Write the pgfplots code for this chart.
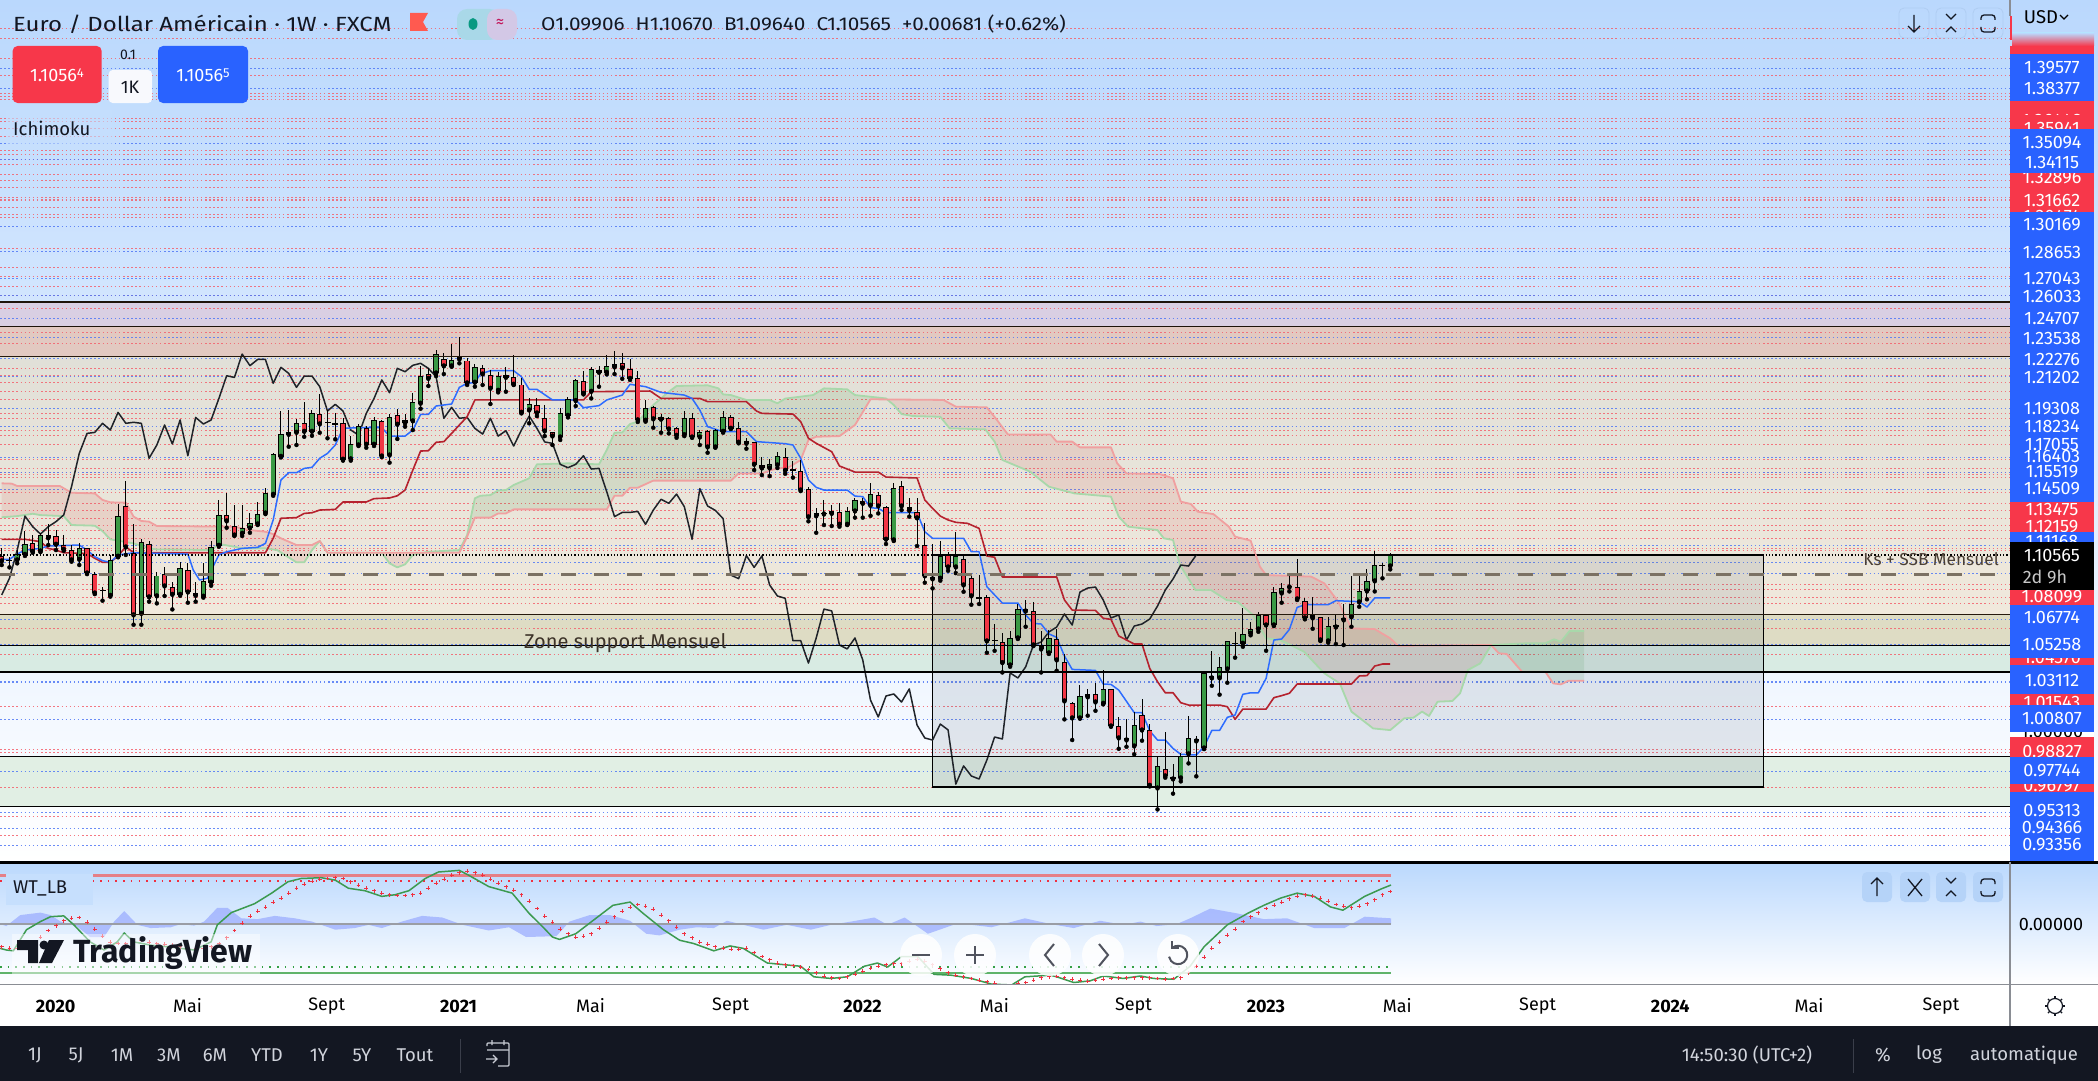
\documentclass[border=0pt]{standalone}
\usepackage{fontspec}
\setmainfont{Fira Sans}
\usepackage{pgfplots}
\usepackage{pgfplotstable}
\pgfplotsset{compat=1.18}
\usepgfplotslibrary{fillbetween}
\pgfdeclarelayer{bg}
\definecolor{tvblue}{HTML}{2962FF}
\definecolor{tvred}{HTML}{F7374A}
\definecolor{cgreen}{HTML}{3A9A45}
\definecolor{cred}{HTML}{F23645}
\definecolor{topbg}{HTML}{BAD8FD}
\definecolor{dark}{HTML}{131722}
\definecolor{ssagreen}{HTML}{A8D8AA}
\definecolor{ssbred}{HTML}{F0A0A0}
\definecolor{tenkan}{HTML}{2D6CFF}
\definecolor{kijun}{HTML}{B5222E}
\definecolor{chikou}{HTML}{1F2329}
\definecolor{lvr}{HTML}{F4606C}
\definecolor{lvb}{HTML}{5078F5}
\definecolor{btn}{HTML}{B5D3F8}
\definecolor{glyph}{HTML}{131722}
\newcommand{\dc}[1]{\definecolor{h#1}{HTML}{#1}}
\dc{D9CFE3}\dc{E2C9C1}\dc{DEDCC4}\dc{D8EBE3}\dc{E1EFE4}\dc{5D6B7A}\dc{8C9EFF}\dc{E57F87}\dc{9A9DA5}\dc{5FB36A}\dc{F03040}\dc{35A045}\dc{3C9A50}\dc{7B7163}\dc{3C3228}\dc{4A3F35}\dc{8A8D94}\dc{C8C8C8}\dc{FF5A50}\dc{A9D8E8}\dc{D3C8E6}\dc{089981}\dc{C2185B}\dc{F8F9FD}\dc{C6DFFD}\dc{AFCDF2}\dc{50535E}\dc{D1D4DC}\dc{3A3E4A}\dc{C8CBD3}
\newcommand{\lbl}{\fontsize{18}{20}\selectfont}
\newcommand{\ui}{\fontsize{18.5}{21}\selectfont}
\pgfplotsset{ebar/.style={only marks,mark=none,forget plot,error bars/.cd,y dir=plus,y explicit,error mark=none,error bar style={#1}}}
% week index, high, low, body bottom, body top
\pgfplotstableread{
i h l b t
3 1.1090 1.1011 1.1029 1.1064
4 1.1203 1.1055 1.1062 1.1124
6 1.1189 1.1078 1.1082 1.1177
11 1.1130 1.1001 1.1033 1.1100
15 1.1061 1.0813 1.0818 1.1029
16 1.1364 1.1047 1.1051 1.1292
19 1.1154 1.0646 1.0711 1.1136
21 1.0961 1.0773 1.0815 1.0938
24 1.1021 1.0818 1.0824 1.0981
27 1.1011 1.0807 1.0813 1.0904
28 1.1146 1.0878 1.0896 1.1106
29 1.1388 1.1110 1.1116 1.1296
32 1.1358 1.1174 1.1187 1.1219
33 1.1312 1.1193 1.1219 1.1249
34 1.1374 1.1239 1.1243 1.1302
35 1.1461 1.1304 1.1308 1.1427
36 1.1665 1.1413 1.1419 1.1659
37 1.1917 1.1641 1.1645 1.1778
38 1.1923 1.1705 1.1776 1.1790
39 1.1868 1.1715 1.1788 1.1844
41 1.1923 1.1770 1.1794 1.1907
46 1.1768 1.1622 1.1630 1.1719
47 1.1838 1.1709 1.1713 1.1830
49 1.1879 1.1709 1.1717 1.1862
51 1.1899 1.1610 1.1653 1.1879
53 1.1899 1.1824 1.1844 1.1862
54 1.2022 1.1804 1.1856 1.1969
55 1.2185 1.1931 1.1961 1.2125
57 1.2280 1.2125 1.2141 1.2254
59 1.2316 1.2181 1.2183 1.2219
62 1.2195 1.2062 1.2086 1.2177
65 1.2151 1.2028 1.2038 1.2123
69 1.1992 1.1844 1.1921 1.1957
73 1.1933 1.1745 1.1760 1.1903
74 1.2002 1.1879 1.1889 1.1987
75 1.2106 1.1947 1.1977 1.2100
77 1.2181 1.1992 1.2032 1.2165
79 1.2250 1.2135 1.2145 1.2183
80 1.2274 1.2137 1.2177 1.2195
84 1.1983 1.1854 1.1860 1.1937
86 1.1897 1.1788 1.1866 1.1879
89 1.1917 1.1768 1.1774 1.1874
91 1.1804 1.1715 1.1760 1.1794
93 1.1808 1.1699 1.1701 1.1802
94 1.1917 1.1788 1.1794 1.1879
100 1.1630 1.1530 1.1576 1.1600
101 1.1671 1.1578 1.1594 1.1647
106 1.1338 1.1193 1.1291 1.1308
108 1.1358 1.1233 1.1306 1.1320
110 1.1348 1.1239 1.1241 1.1320
111 1.1398 1.1283 1.1320 1.1386
113 1.1487 1.1294 1.1354 1.1421
116 1.1487 1.1144 1.1148 1.1457
122 1.1144 1.0908 1.0920 1.1053
124 1.1195 1.0953 1.0987 1.1053
131 1.0610 1.0396 1.0404 1.0565
132 1.0769 1.0561 1.0565 1.0737
136 1.0614 1.0472 1.0476 1.0565
140 1.0287 1.0087 1.0089 1.0220
141 1.0261 1.0105 1.0214 1.0232
143 1.0376 1.0172 1.0176 1.0261
147 1.0128 0.9875 0.9922 1.0047
150 0.9861 0.9547 0.9672 0.9803
153 0.9881 0.9714 0.9732 0.9863
154 1.0103 0.9821 0.9875 0.9970
155 0.9984 0.9744 0.9952 0.9964
156 1.0366 0.9906 0.9910 1.0356
158 1.0456 1.0230 1.0327 1.0392
159 1.0551 1.0301 1.0380 1.0547
161 1.0745 1.0515 1.0533 1.0589
162 1.0664 1.0583 1.0593 1.0618
163 1.0719 1.0604 1.0618 1.0702
165 1.0872 1.0638 1.0642 1.0838
166 1.0892 1.0777 1.0832 1.0862
170 1.0809 1.0622 1.0684 1.0702
172 1.0694 1.0539 1.0547 1.0636
173 1.0708 1.0531 1.0630 1.0642
175 1.0936 1.0634 1.0690 1.0767
176 1.0936 1.0753 1.0779 1.0844
177 1.0975 1.0797 1.0844 1.0904
178 1.1084 1.0844 1.0904 1.0999
180 1.1070 1.0975 1.0993 1.1058
}\upT
\pgfplotstableread{
i h l b t
1 1.1100 1.1001 1.1023 1.1055
5 1.1179 1.1074 1.1080 1.1130
7 1.1243 1.1120 1.1160 1.1177
8 1.1209 1.1090 1.1122 1.1172
9 1.1179 1.1086 1.1092 1.1118
10 1.1120 1.1021 1.1029 1.1092
12 1.1100 1.0947 1.0951 1.1100
13 1.0961 1.0828 1.0832 1.0945
17 1.1501 1.1061 1.1106 1.1354
18 1.1243 1.0646 1.0702 1.1070
20 1.1146 1.0783 1.0809 1.1124
22 1.0991 1.0817 1.0874 1.0949
23 1.0902 1.0737 1.0824 1.0868
25 1.1011 1.0777 1.0838 1.0969
26 1.0902 1.0783 1.0818 1.0832
30 1.1427 1.1223 1.1261 1.1296
31 1.1358 1.1174 1.1177 1.1235
40 1.1973 1.1764 1.1794 1.1844
42 1.2018 1.1788 1.1838 1.1901
45 1.1877 1.1622 1.1628 1.1844
48 1.1828 1.1699 1.1717 1.1816
50 1.1862 1.1643 1.1647 1.1856
52 1.1927 1.1751 1.1836 1.1891
56 1.2171 1.2066 1.2109 1.2135
58 1.2260 1.2137 1.2183 1.2224
60 1.2355 1.2201 1.2224 1.2240
61 1.2230 1.2072 1.2082 1.2217
63 1.2191 1.2072 1.2135 1.2171
64 1.2161 1.1959 1.2050 1.2129
66 1.2177 1.2032 1.2115 1.2129
67 1.2250 1.2072 1.2074 1.2117
68 1.2111 1.1903 1.1907 1.2074
70 1.1992 1.1887 1.1903 1.1951
71 1.1951 1.1768 1.1796 1.1874
72 1.1794 1.1715 1.1766 1.1794
76 1.2157 1.2016 1.2020 1.2094
78 1.2185 1.2062 1.2145 1.2163
81 1.2260 1.2109 1.2171 1.2201
82 1.2226 1.2102 1.2109 1.2165
83 1.2157 1.1852 1.1862 1.2111
85 1.1947 1.1818 1.1868 1.1939
87 1.1883 1.1784 1.1808 1.1874
88 1.1824 1.1758 1.1770 1.1814
90 1.1903 1.1758 1.1760 1.1874
92 1.1804 1.1669 1.1701 1.1796
95 1.1893 1.1810 1.1812 1.1879
96 1.1850 1.1725 1.1729 1.1814
97 1.1755 1.1693 1.1723 1.1737
98 1.1735 1.1566 1.1598 1.1731
99 1.1645 1.1536 1.1576 1.1598
102 1.1695 1.1544 1.1562 1.1641
104 1.1626 1.1441 1.1445 1.1558
105 1.1467 1.1261 1.1285 1.1451
107 1.1386 1.1239 1.1302 1.1308
109 1.1368 1.1229 1.1241 1.1314
112 1.1398 1.1283 1.1366 1.1384
114 1.1437 1.1308 1.1350 1.1415
115 1.1354 1.1126 1.1152 1.1344
117 1.1501 1.1328 1.1350 1.1469
118 1.1398 1.1289 1.1324 1.1344
119 1.1398 1.1114 1.1279 1.1318
120 1.1249 1.0896 1.0934 1.1122
121 1.1124 1.0862 1.0916 1.0928
123 1.1080 1.0967 1.0987 1.1062
125 1.1061 1.0842 1.0880 1.1035
126 1.0941 1.0765 1.0815 1.0922
128 1.0822 1.0479 1.0547 1.0809
130 1.0594 1.0362 1.0418 1.0545
133 1.0793 1.0634 1.0725 1.0737
134 1.0779 1.0519 1.0523 1.0725
135 1.0608 1.0362 1.0499 1.0517
137 1.0618 1.0372 1.0434 1.0559
138 1.0470 1.0083 1.0190 1.0422
139 1.0188 0.9960 1.0089 1.0178
142 1.0297 1.0134 1.0184 1.0232
144 1.0261 1.0039 1.0041 1.0261
145 1.0095 0.9908 0.9970 1.0041
146 1.0085 0.9920 0.9958 0.9970
148 1.0204 0.9956 1.0017 1.0107
149 1.0053 0.9684 0.9688 1.0017
151 1.0007 0.9736 0.9744 0.9785
152 0.9817 0.9641 0.9726 0.9738
157 1.0489 1.0283 1.0327 1.0339
164 1.0708 1.0491 1.0642 1.0702
167 1.0936 1.0844 1.0868 1.0876
168 1.1035 1.0793 1.0797 1.0868
169 1.0803 1.0678 1.0684 1.0785
171 1.0690 1.0549 1.0553 1.0690
174 1.0767 1.0525 1.0672 1.0684
}\dnT
\pgfplotstableread{
i h l b
2 1.1051 1.0987 1.1027
14 1.0872 1.0789 1.0850
43 1.1923 1.1755 1.1850
44 1.1903 1.1749 1.1840
103 1.1622 1.1521 1.1566
127 1.0941 1.0769 1.0805
129 1.0648 1.0491 1.0551
160 1.0600 1.0450 1.0533
179 1.1011 1.0922 1.0999
}\djT
\newcommand{\hl}[2]{\draw[#1,line width=1.3pt] (0,#2) -- (2010,#2);}
\newcommand{\blk}[4]{\begin{scope}\clip (2010,#2) rectangle (2094,#3);\fill[#1] (2010,#2) rectangle (2094,#3);#4\end{scope}}
\newcommand{\pl}[2]{\node[white,font=\lbl,inner sep=0] at (2052,#1) {#2};}
\newcommand{\navbtn}[1]{\fill[white,fill opacity=.85] (#1,955) circle (21);}
\begin{document}
\begin{tikzpicture}
\begin{axis}[name=main,set layers,at={(0pt,-861.5pt)},anchor=south west,width=2010pt,height=861.5pt,scale only axis,
  xmin=0.7808,xmax=259.90,ymin=0.92373,ymax=1.43622,enlargelimits=false,
  axis line style={draw=none},major tick length=0pt,xtick=\empty,
  ytick={1.4190,1.4136,1.4017,1.3916,1.3809,1.3791,1.3773,1.3660,1.3642,1.3601,1.3553,1.3470,1.3446,1.3416,1.3381,1.3327,1.3291,1.3250,1.3190,1.3178,1.3167,1.3131,1.3089,1.3071,1.2887,1.2774,1.2720,1.2661,1.2607,1.2530,1.2387,1.2322,1.2173,1.2131,1.2090,1.2036,1.1983,1.1905,1.1870,1.1804,1.1769,1.1721,1.1632,1.1578,1.1554,1.1537,1.1519,1.1430,1.1370,1.1328,1.1281,1.1239,1.1209,1.1162,1.1102,1.1090,1.0888,1.0858,1.0811,1.0775,1.0626,1.0472,1.0157,0.9901,0.9889,0.9680,0.9508,0.9395},
  yticklabels={},ymajorgrids,
  major grid style={lvr,line width=.9pt,dash pattern=on 1.5pt off 2.6pt,opacity=.85},
  extra y ticks={1.39577,1.38377,1.35094,1.34115,1.30169,1.28653,1.27043,1.26033,1.24707,1.23538,1.22276,1.21202,1.19308,1.18234,1.16403,1.15519,1.14509,1.11168,1.1014,1.0948,1.06774,1.05258,1.03112,1.03000,1.00807,0.97744,0.95313,0.94366,0.93356},
  extra y tick labels={},
  extra y tick style={grid=major,major grid style={lvb,line width=.9pt,dash pattern=on 1.5pt off 2.6pt,opacity=.85}},
  clip=true]
% rectangle drawing
\addplot[fill=h5D6B7A,fill opacity=.14,draw=black,line width=1.2pt,forget plot] coordinates {(121.0,1.1061)(228.1,1.1061)(228.1,0.9680)(121.0,0.9680)} --cycle;
% Senkou A
\addplot[name path=ssa,ssagreen,line width=1.8pt,line join=round,forget plot] coordinates {(1,1.1285)(3,1.1292)(5,1.1306)(6,1.1298)(9,1.1292)(10,1.1239)(13,1.1235)(14,1.1203)(15,1.1154)(18,1.1130)(20,1.1100)(21,1.1094)(28,1.1090)(29,1.1126)(31,1.1110)(32,1.1100)(35,1.1100)(36.5,1.1090)(37.5,1.1061)(39,1.1017)(40,1.1017)(41,1.1090)(42,1.1144)(43,1.1074)(50,1.1074)(51,1.1011)(52,1.0987)(53,1.1005)(54,1.1061)(56,1.1080)(60,1.1090)(61,1.1179)(62,1.1398)(62.7,1.1413)(64,1.1417)(65,1.1445)(66,1.1447)(67,1.1477)(69,1.1517)(70,1.1600)(74,1.1606)(78,1.1600)(79,1.1685)(80,1.1788)(81,1.1790)(82,1.1840)(83,1.1854)(85,1.1953)(87,1.2032)(88,1.2066)(92,1.2070)(93.4,1.2052)(94,1.2016)(95,1.2012)(97,1.1983)(100,1.1983)(101,1.1963)(102,1.1991)(105.6,1.2012)(107,1.2052)(110,1.2046)(111,1.2012)(115,1.1992)(116,1.1953)(117,1.1899)(118.5,1.1887)(122,1.1883)(123.2,1.1814)(127.8,1.1808)(129,1.1735)(130,1.1626)(133.6,1.1556)(136,1.1467)(139.3,1.1427)(144,1.1408)(145,1.1289)(146.2,1.1229)(150,1.1209)(150.8,1.1160)(152,1.1150)(152.9,1.1001)(154.9,1.0852)(156.9,1.0852)(158.9,1.0793)(160.3,1.0783)(162.3,1.0704)(164,1.0565)(165.8,1.0555)(167.6,1.0515)(168.9,1.0485)(171.5,1.0357)(173.5,1.0297)(175,1.0129)(177.8,1.0029)(180,1.0019)(181.8,1.0089)(183,1.0093)(184.1,1.0129)(185,1.0103)(186.1,1.0188)(188,1.0192)(189,1.0238)(190,1.0376)(191.6,1.0416)(193,1.0525)(197.4,1.0535)(200,1.0535)(201.1,1.0559)(202,1.0545)(203.1,1.0608)(205,1.0608)};
% Senkou B
\addplot[name path=ssb,ssbred,line width=1.8pt,line join=round,forget plot] coordinates {(1,1.1487)(2.3,1.1485)(3,1.1471)(8.5,1.1471)(10,1.1431)(13,1.1427)(14,1.1388)(15,1.1374)(17,1.1372)(18,1.1289)(19,1.1263)(20,1.1259)(21,1.1233)(31,1.1229)(33,1.1209)(35,1.1199)(36,1.1185)(37,1.1160)(39,1.1120)(41,1.1120)(42,1.1144)(43,1.1074)(60,1.1074)(61,1.1170)(62,1.1283)(64,1.1283)(65,1.1308)(66,1.1308)(67,1.1332)(79,1.1332)(80,1.1413)(81,1.1413)(82,1.1461)(83,1.1461)(85,1.1503)(95,1.1503)(96,1.1546)(99,1.1546)(100.5,1.1570)(102.6,1.1586)(104,1.1626)(105,1.1745)(106,1.1764)(109,1.1768)(111,1.1834)(113,1.1987)(122.4,1.1983)(124,1.1943)(128,1.1939)(129.3,1.1864)(130.7,1.1778)(136.2,1.1778)(137,1.1735)(139,1.1735)(140,1.1701)(144,1.1701)(144.8,1.1606)(146,1.1546)(150.3,1.1542)(152,1.1517)(153,1.1378)(154.3,1.1364)(155.2,1.1318)(157.2,1.1304)(159.2,1.1229)(160,1.1170)(162,1.1146)(163.2,1.0991)(164,1.0941)(169.8,1.0932)(171.5,1.0892)(173.3,1.0783)(175,1.0624)(178,1.0620)(180,1.0565)(181,1.0521)(193,1.0525)(194,1.0476)(195,1.0472)(197,1.0366)(200,1.0366)(201,1.0297)(202,1.0291)(203,1.0313)(205,1.0313)};
\addplot[fill=red!75!black!65,fill opacity=.14,forget plot] fill between[of=ssa and ssb,soft clip={domain=0.78:55}];
\addplot[fill=green!45!black,fill opacity=.09,forget plot] fill between[of=ssa and ssb,soft clip={domain=55:113}];
\addplot[fill=red!75!black!65,fill opacity=.14,forget plot] fill between[of=ssa and ssb,soft clip={domain=113:193}];
\addplot[fill=green!45!black,fill opacity=.09,forget plot] fill between[of=ssa and ssb,soft clip={domain=193:206}];
% Chikou
\addplot[chikou,line width=1.5pt,line join=round,forget plot] coordinates {(1,1.0823)(2,1.0922)(3,1.1090)(4,1.1292)(5,1.1229)(6,1.1185)(7,1.1229)(8,1.1259)(9,1.1299)(10,1.1467)(11,1.1665)(12,1.1784)(13,1.1790)(14,1.1844)(15,1.1804)(16,1.1909)(17,1.1844)(18,1.1850)(19,1.1844)(20,1.1636)(21,1.1715)(22,1.1834)(23,1.1721)(24,1.1864)(25,1.1651)(26,1.1879)(27,1.1840)(28,1.1864)(29,1.1992)(30,1.2127)(31,1.2117)(32,1.2256)(33,1.2187)(34,1.2224)(35,1.2224)(36,1.2082)(37,1.2177)(38,1.2141)(39,1.2058)(40,1.2125)(41,1.2125)(42,1.2062)(43,1.1917)(44,1.1957)(45,1.1917)(46,1.1804)(47,1.1774)(48,1.1903)(49,1.1992)(50,1.2102)(51,1.2026)(52,1.2171)(53,1.2151)(54,1.2189)(55,1.2201)(56,1.2171)(57,1.2121)(58,1.1874)(59,1.1939)(60,1.1874)(61,1.1879)(62,1.1814)(63,1.1780)(64,1.1874)(65,1.1768)(66,1.1800)(67,1.1709)(68,1.1804)(69,1.1887)(70,1.1814)(71,1.1733)(72,1.1725)(73,1.1600)(74,1.1580)(75,1.1600)(76,1.1651)(77,1.1572)(78,1.1576)(79,1.1437)(80,1.1289)(81,1.1314)(82,1.1314)(83,1.1320)(84,1.1243)(85,1.1328)(86,1.1392)(87,1.1368)(88,1.1423)(89,1.1348)(90,1.1154)(91,1.1455)(92,1.1352)(93,1.1326)(94,1.1277)(95,1.0941)(96,1.0920)(97,1.1057)(98,1.0987)(99,1.1055)(100,1.0882)(101,1.0817)(102,1.0803)(103,1.0551)(104,1.0551)(105,1.0418)(106,1.0567)(107,1.0739)(108,1.0728)(109,1.0525)(110,1.0502)(111,1.0567)(112,1.0436)(113,1.0198)(114,1.0097)(115,1.0222)(116,1.0234)(117,1.0186)(118,1.0264)(119,1.0049)(120,0.9972)(121,0.9960)(122,1.0055)(123,1.0020)(124,0.9698)(125,0.9806)(126,0.9746)(127,0.9728)(128,0.9841)(129,0.9978)(130,0.9966)(131,1.0359)(132,1.0329)(133,1.0395)(134,1.0525)(135,1.0543)(136,1.0603)(137,1.0632)(138,1.0710)(139,1.0644)(140,1.0840)(141,1.0864)(142,1.0870)(143,1.0793)(144,1.0686)(145,1.0704)(146,1.0555)(147,1.0638)(148,1.0650)(149,1.0680)(150,1.0757)(151,1.0852)(152,1.0918)(153,1.1001)(154,1.0995)(155,1.1061)};
% Kijun
\addplot[kijun,line width=1.6pt,line join=round,forget plot] coordinates {(1,1.1154)(4,1.1154)(6,1.1140)(7,1.1100)(8,1.1090)(9,1.1074)(12,1.1070)(13,1.1041)(14,1.1017)(15,1.1017)(16,1.1055)(17,1.1110)(18,1.1074)(35,1.1074)(36,1.1160)(37,1.1279)(39,1.1283)(40,1.1308)(41,1.1312)(42,1.1328)(44,1.1332)(45,1.1376)(48,1.1376)(49,1.1396)(51,1.1400)(52,1.1413)(53,1.1447)(54,1.1566)(55,1.1679)(56,1.1681)(57,1.1731)(58,1.1735)(59,1.1784)(60,1.1834)(61,1.1883)(62,1.1983)(76,1.1983)(77,1.2032)(84.6,1.2036)(86,1.1992)(91,1.1992)(92,1.1973)(97,1.1973)(98.3,1.1917)(99,1.1903)(103,1.1899)(104,1.1854)(105,1.1755)(106,1.1725)(108,1.1675)(109,1.1590)(111,1.1554)(114,1.1554)(115,1.1524)(119,1.1519)(120,1.1388)(121,1.1338)(122,1.1292)(123,1.1269)(124,1.1255)(125.5,1.1249)(127,1.1219)(128,1.1055)(129,1.1047)(130,1.0930)(137,1.0930)(138,1.0793)(139,1.0733)(142,1.0731)(143,1.0684)(144,1.0678)(145,1.0579)(147,1.0531)(148,1.0531)(149,1.0386)(150,1.0307)(151,1.0241)(152,1.0241)(153,1.0182)(154,1.0168)(158,1.0168)(159,1.0158)(160,1.0083)(161,1.0144)(164,1.0144)(165,1.0212)(166,1.0224)(167,1.0238)(168,1.0293)(175,1.0293)(176,1.0341)(177,1.0343)(178,1.0400)(179,1.0412)(180,1.0412)};
% Tenkan
\addplot[tenkan,line width=1.5pt,line join=round,forget plot] coordinates {(1,1.1035)(2,1.1035)(3,1.1066)(4,1.1090)(6,1.1100)(7,1.1114)(11,1.1120)(12,1.1090)(13,1.1051)(14,1.1027)(15,1.1017)(16,1.1061)(18,1.1074)(25,1.1066)(25.7,1.0971)(26.5,1.0912)(27.5,1.0922)(29,1.1061)(30,1.1080)(32,1.1100)(34,1.1106)(35,1.1130)(36,1.1269)(37,1.1507)(38,1.1550)(39,1.1550)(40,1.1576)(41,1.1582)(42,1.1636)(43,1.1665)(44,1.1715)(45,1.1814)(47,1.1818)(50,1.1818)(51,1.1768)(53,1.1768)(54,1.1804)(55,1.1897)(56,1.1897)(57,1.1947)(59,1.1959)(60,1.2058)(61,1.2082)(62,1.2086)(62.7,1.2137)(64,1.2157)(67,1.2157)(68,1.2121)(69,1.2046)(70,1.2046)(72,1.1983)(75,1.1983)(76,1.1937)(78,1.1949)(79,1.1983)(81,1.2012)(82,1.2076)(84,1.2062)(86,1.2028)(89,1.2012)(90,1.1992)(91,1.1923)(92,1.1824)(94,1.1794)(97,1.1794)(98.3,1.1735)(102,1.1723)(103,1.1715)(104,1.1636)(105,1.1507)(106,1.1463)(107,1.1447)(110,1.1447)(111,1.1411)(112,1.1408)(113,1.1342)(114,1.1338)(115,1.1312)(119,1.1312)(120,1.1199)(121,1.1160)(125,1.1160)(126,1.1080)(127,1.1080)(128,1.0872)(129,1.0823)(130,1.0775)(132,1.0775)(133,1.0704)(134,1.0654)(135,1.0650)(136,1.0591)(137,1.0571)(138,1.0460)(139,1.0380)(142,1.0374)(143,1.0293)(144,1.0291)(145,1.0257)(147,1.0123)(148,1.0123)(149,1.0014)(150,0.9960)(151,0.9960)(152,0.9910)(153,0.9875)(155,0.9871)(156,0.9920)(157,1.0017)(158,1.0017)(159,1.0095)(160,1.0109)(161,1.0232)(162,1.0241)(163,1.0241)(164,1.0327)(165,1.0555)(166,1.0561)(167,1.0618)(168,1.0749)(169,1.0765)(172,1.0765)(173,1.0789)(176,1.0783)(177,1.0751)(178,1.0805)(180,1.0805)};
% candles: wicks, black body, coloured inside
\addplot[ebar={black,line width=1pt}] table[x=i,y=l,y error expr=\thisrow{h}-\thisrow{l}] {\upT};
\addplot[ebar={black,line width=5.3pt}] table[x=i,y=b,y error expr=\thisrow{t}-\thisrow{b}] {\upT};
\addplot[ebar={cgreen,line width=3.5pt}] table[x=i,y expr=\thisrow{b}+.0005,y error expr={max(\thisrow{t}-\thisrow{b}-.0010,0.0002)}] {\upT};
\addplot[ebar={black,line width=1pt}] table[x=i,y=l,y error expr=\thisrow{h}-\thisrow{l}] {\dnT};
\addplot[ebar={black,line width=5.3pt}] table[x=i,y=b,y error expr=\thisrow{t}-\thisrow{b}] {\dnT};
\addplot[ebar={cred,line width=3.5pt}] table[x=i,y expr=\thisrow{b}+.0005,y error expr={max(\thisrow{t}-\thisrow{b}-.0010,0.0002)}] {\dnT};
\addplot[ebar={black,line width=1pt}] table[x=i,y=l,y error expr=\thisrow{h}-\thisrow{l}] {\djT};
\addplot[black,forget plot,only marks,mark=-,mark size=3pt,mark options={line width=1.3pt}] table[x=i,y=b] {\djT};
\end{axis}
\begin{axis}[name=sub,set layers,at={(0pt,-984pt)},anchor=south west,width=2010pt,height=122pt,scale only axis,
  xmin=0.7808,xmax=259.90,ymin=-73.85,ymax=76.3,enlargelimits=false,
  axis line style={draw=none},major tick length=0pt,
  xtick={7.95,24.95,42.9,59.9,76.9,94.97,111.97,128.97,146.9,163.97,180.9,199,216.1,234,251},
  xticklabels={\textbf{2020},Mai,Sept,\textbf{2021},Mai,Sept,\textbf{2022},Mai,Sept,\textbf{2023},Mai,Sept,\textbf{2024},Mai,Sept},
  xticklabel style={anchor=center,yshift=-22pt,font=\lbl,text=black},
  ytick={0},yticklabels={0.00000},yticklabel pos=right,
  yticklabel style={anchor=center,xshift=41pt,font=\lbl,text=black},
  clip=true]
\addplot[fill=h8C9EFF,fill opacity=.6,draw=none,forget plot] coordinates {(0.8,0)(1.6,-2.5)(3.4,11)(6,14)(7.3,11)(8.6,3)(10.7,-3)(12.4,-16)(14.2,-16)(15.5,3)(16.8,16)(18.5,-1)(20.2,-5)(22.8,-4)(24.1,0)(25.8,-2)(27.1,3)(28.8,20)(30.1,20)(31.9,7)(34,6)(36.2,10)(38.8,7)(41,3)(44,-7)(46.5,-5)(48.3,-1)(50,-5)(52.6,3)(55.2,10)(57.8,8)(60.4,-1)(63.8,-8)(66.4,-4)(68.6,-16)(72.5,-15)(74.2,3)(76.8,11)(79.4,11)(82,4)(84.1,-12)(85.8,-14)(88.4,-7)(90.6,-4)(92.8,-5)(94.5,4)(96.6,-1)(99.2,-7)(102.2,-1)(105.3,-7)(107.9,-1)(110.5,3)(113.5,8)(115.2,-1)(117.4,8)(120.4,-12)(124.3,1)(128.6,-4)(132.9,7)(136.2,0)(139.2,-5)(142.6,4)(145.6,-1)(147.8,3)(149.9,-2.5)(152.5,0)(154.2,7)(156.8,19)(160.3,13)(163.7,6)(166.7,7)(170.2,-5)(174.1,-5)(176.7,9)(180.1,7)(180.1,0)} --cycle;
\addplot[hE57F87,line width=2.5pt,forget plot] coordinates {(0.78,60)(180.1,60)};
\addplot[h9A9DA5,line width=2.5pt,forget plot] coordinates {(0.78,0)(180.1,0)};
\addplot[h5FB36A,line width=2pt,forget plot] coordinates {(0.78,-60)(180.1,-60)};
\addplot[hF03040,line width=2.4pt,dash pattern=on 1.6pt off 6.1pt,forget plot] coordinates {(0.78,53)(180.1,53)};
\addplot[h35A045,line width=2.4pt,dash pattern=on 1.6pt off 6.1pt,forget plot] coordinates {(0.78,-53)(180.1,-53)};
\addplot[h3C9A50,line width=1.5pt,line join=round,forget plot] coordinates {(0.8,-30)(1.6,-32)(2.5,-33)(4.2,-7)(6,3)(7.3,9)(9,10)(10.3,-1)(11.6,-14)(12.4,-22)(14.2,-32)(15.9,-22)(16.8,-11)(18,-22)(20.2,-26)(22.4,-28)(25.8,-32)(28,-22)(28.8,-1)(30.6,14)(33.6,25)(35.8,38)(37.9,52)(39.6,56)(42.2,57)(44,54)(45.7,44)(47.8,41)(50,34)(51.7,36)(53.5,41)(55.6,56)(57.3,64)(60,66)(61.2,60)(63.8,46)(66.8,38)(69,13)(70.7,-3)(72,-16)(72.9,-19)(75,-12)(77.6,7)(79.8,23)(82,27)(83.7,13)(86.3,-7)(88.4,-20)(90.2,-24)(92.8,-33)(94.9,-27)(96.6,-30)(99.7,-48)(101.8,-50)(104,-52)(105.7,-65)(107.9,-67)(110,-65)(112.2,-52)(113.9,-48)(115.2,-53)(117,-40)(119.1,-40)(121.2,-62)(123.4,-63)(126,-67)(128.6,-74)(131.2,-75)(132.9,-65)(136.2,-63)(137,-65)(139.2,-72)(141.3,-70)(143,-64)(145.6,-67)(147.8,-64)(149.5,-67)(152.1,-68)(154.2,-52)(156,-28)(159,-1)(161.6,13)(163.7,23)(165.9,32)(168,38)(170.2,34)(172.3,21)(173.9,17)(176.7,34)(178.8,43)(180.1,48)};
\addplot[only marks,mark=+,mark size=1.9pt,mark options={hF03040,line width=.7pt},forget plot] coordinates {(1,-28)(2,-30)(3,-30)(4,-28)(5,-24)(6,-16)(7,-8)(8,-2)(9,4)(10,7)(11,8)(12,2)(13,-6)(14,-15)(15,-22)(16,-24)(17,-24)(18,-22)(19,-20)(20,-22)(21,-24)(22,-25)(23,-26)(24,-28)(25,-29)(26,-30)(27,-30)(28,-28)(29,-24)(30,-17)(31,-8)(32,1)(33,10)(34,16)(35,21)(36,27)(37,32)(38,38)(39,44)(40,49)(41,53)(42,55)(43,56)(44,57)(45,56)(46,52)(47,48)(48,44)(49,41)(50,38)(51,36)(52,35)(53,35)(54,36)(55,38)(56,44)(57,50)(58,55)(59,60)(60,63)(61,65)(62,63)(63,60)(64,55)(65,50)(66,46)(67,42)(68,36)(69,28)(70,19)(71,10)(72,2)(73,-6)(74,-12)(75,-16)(76,-15)(77,-12)(78,-5)(79,2)(80,9)(81,16)(82,21)(83,24)(84,22)(85,18)(86,11)(87,4)(88,-4)(89,-12)(90,-17)(91,-22)(92,-25)(93,-28)(94,-30)(95,-31)(96,-31)(97,-30)(98,-35)(99,-40)(100,-44)(101,-48)(102,-50)(103,-51)(104,-53)(105,-56)(106,-60)(107,-64)(108,-66)(109,-67)(110,-65)(111,-62)(112,-58)(113,-54)(114,-52)(115,-50)(116,-49)(117,-49)(118,-46)(119,-43)(120,-46)(121,-50)(122,-55)(123,-60)(124,-63)(125,-65)(126,-67)(127,-69)(128,-71)(129,-73)(130,-74)(131,-74)(132,-73)(133,-72)(134,-69)(135,-66)(136,-65)(137,-64)(138,-66)(139,-68)(140,-69)(141,-70)(142,-69)(143,-68)(144,-67)(145,-66)(146,-66)(147,-66)(148,-66)(149,-66)(150,-67)(151,-68)(152,-67)(153,-66)(154,-60)(155,-52)(156,-41)(157,-30)(158,-22)(159,-14)(160,-6)(161,3)(162,9)(163,14)(164,19)(165,23)(166,27)(167,31)(168,34)(169,36)(170,34)(171,32)(172,28)(173,24)(174,22)(175,20)(176,22)(177,25)(178,30)(179,36)(180,40)};
\end{axis}
% overlay, in picture pixels with the origin at the top left
\begin{scope}[x=1pt,y=-1pt]
\hl{black!85!brown}{302}\hl{black!85!brown}{326.3}\hl{black!80!brown}{356.5}\hl{black!80!brown}{614.3}\hl{black}{645.3}\hl{black}{672}\hl{black}{756.3}\hl{black}{806.3}
\draw[black,line width=1.1pt,dash pattern=on 1.3pt off 2pt] (0,555) -- (2010,555);
\draw[h7B7163,line width=3.6pt,dash pattern=on 15pt off 18pt] (0.3,574.3) -- (1996,574.3);
\node[font=\fontsize{20}{24}\selectfont,text=h3C3228,inner sep=0,anchor=west] at (524,643.5) {Zone support Mensuel};
\node[font=\fontsize{17.3}{20}\selectfont,text=h4A3F35,inner sep=0,anchor=east] at (1999,559) {Ks + SSB Mensuel};
% panel separators
\fill[black] (0,861) rectangle (2098,863.5);
\draw[h8A8D94,line width=1.6pt] (0,984.5) -- (2098,984.5);
\draw[h8A8D94,line width=1.2pt] (2010,862) -- (2010,1026);
\draw[h8A8D94,line width=1.2pt] (2010,0) -- (2010,16);
% price scale
\fill[tvred] (2010,16) rectangle (2012,40);
\shade[top color=topbg,bottom color=tvred] (2012pt,-33pt) rectangle (2094pt,-46pt);
\fill[tvred] (2010,46) rectangle (2094,54);
\blk{tvblue}{54}{101}{\pl{68}{1.39577}\pl{88}{1.38377}}
\blk{tvred}{101}{129}{\pl{120}{1.36448}\fill[tvred] (2010,115) rectangle (2094,129);\pl{128.5}{1.35941}}
\blk{tvblue}{129}{173}{\pl{143}{1.35094}\pl{162}{1.34115}}
\blk{tvred}{173}{212}{\pl{178}{1.32896}\pl{200}{1.31662}\pl{216}{1.30474}}
\blk{tvblue}{212}{502}{\pl{225}{1.30169}\pl{252}{1.28653}\pl{278}{1.27043}\pl{296}{1.26033}\pl{318}{1.24707}\pl{338}{1.23538}\pl{359}{1.22276}\pl{377}{1.21202}\pl{409}{1.19308}\pl{426}{1.18234}\pl{444}{1.17055}\pl{456}{1.16403}\pl{472}{1.15519}\pl{489}{1.14509}}
\blk{tvred}{502}{532}{\pl{509}{1.13475}\pl{527}{1.12159}}
\blk{tvblue}{532}{542}{\pl{541}{1.11168}}
\fill[black] (2010,542) rectangle (2094,590);
\pl{555}{1.10565}
\node[text=hC8C8C8,font=\lbl,inner sep=0] at (2045,577) {2d 9h};
\blk{tvred}{590}{605}{\pl{597}{1.08099}}
\blk{tvblue}{605}{658}{\pl{617}{1.06774}\pl{644}{1.05258}}
\blk{tvred}{658}{665}{\pl{657}{1.04370}}
\blk{tvblue}{665}{694}{\pl{680}{1.03112}}
\blk{tvred}{694}{705}{\pl{702}{1.01543}}
\blk{tvblue}{705}{732}{\pl{718}{1.00807}}
\blk{white}{732}{737}{\node[text=black,font=\lbl,inner sep=0] at (2052,731) {1.00000};}
\blk{tvred}{737}{757}{\pl{752}{0.98827}}
\blk{tvblue}{757}{784}{\pl{771}{0.97744}}
\blk{tvred}{784}{792}{\pl{786}{0.96797}}
\blk{tvblue}{792}{861}{\pl{811}{0.95313}\pl{828}{0.94366}\pl{845}{0.93356}}
\node[font=\ui,inner sep=0,text=black] at (2041,17) {USD};
\draw[black,line width=1.2pt] (2060,15) -- (2064,19) -- (2068,15);
% top legend
\node[font=\fontsize{20.5}{24}\selectfont,inner sep=0,anchor=west,text=dark] at (13,24) {\scalebox{1.17}[1]{Euro / Dollar Américain · 1W · FXCM}};
\fill[hFF5A50] (410,13) -- (428,13) -- (423,22) -- (428,31) -- (410,31) -- cycle;
\fill[hA9D8E8,rounded corners=10pt] (457,9) rectangle (500,40);
\fill[hD3C8E6,rounded corners=10pt] (487,9) rectangle (517,40);
\fill[hA9D8E8] (470,9) rectangle (487,40);
\fill[h089981] (473,24) ellipse (4.5 and 6);
\node[font=\fontsize{17}{20}\selectfont,text=hC2185B,inner sep=0] at (500,23) {≈};
\node[font=\fontsize{18.5}{22}\selectfont,inner sep=0,anchor=west,text=dark] at (541,24) {\scalebox{1.12}[1]{O1.09906 \ H1.10670 \ B1.09640 \ C1.10565 \ +0.00681 (+0.62\%)}};
\fill[tvred,rounded corners=5pt] (12.6,46) rectangle (101.7,103);
\node[white,font=\lbl,inner sep=0] at (57,75) {1.1056\raisebox{.45ex}{\fontsize{13}{13}\selectfont 4}};
\node[font=\fontsize{14}{16}\selectfont,inner sep=0,text=dark] at (128,55) {0.1};
\fill[hF8F9FD,rounded corners=4pt] (108.7,70) rectangle (152,103);
\node[font=\fontsize{18}{20}\selectfont,inner sep=0,text=dark] at (130,87) {1K};
\fill[tvblue,rounded corners=5pt] (158,46) rectangle (248,103);
\node[white,font=\lbl,inner sep=0] at (203,75) {1.1056\raisebox{.45ex}{\fontsize{13}{13}\selectfont 5}};
\fill[hC6DFFD,fill opacity=.6] (6,110) rectangle (112,145);
\node[font=\ui,inner sep=0,anchor=west,text=dark] at (13,128) {Ichimoku};
% pane buttons
\foreach \bx in {1914,1951,1988}{\draw[hAFCDF2,line width=.8pt,rounded corners=5pt] (\bx-15,8) rectangle (\bx+15,38);}
\draw[glyph,line width=1.3pt] (1914,15) -- (1914,32) (1908,26) -- (1914,32) -- (1920,26);
\draw[glyph,line width=1.3pt] (1946,14) -- (1951,19) -- (1956,14) (1946,32) -- (1951,27) -- (1956,32);
\draw[glyph,line width=1.3pt,rounded corners=3pt] (1981,20) -- (1981,15) -- (1995,15) -- (1995,20) (1981,27) -- (1981,32) -- (1995,32) -- (1995,27);
\fill[hC6DFFD] (6,874) rectangle (93,905);
\node[font=\ui,inner sep=0,anchor=west,text=dark] at (13,888) {WT\_LB};
\foreach \bx in {1877,1915,1951,1988}{\fill[btn,rounded corners=5pt] (\bx-15,872) rectangle (\bx+15,902);}
\draw[glyph,line width=1.3pt] (1877,878) -- (1877,896) (1871,884) -- (1877,878) -- (1883,884);
\draw[glyph,line width=1.3pt] (1908,879) -- (1922,896) (1922,879) -- (1908,896);
\draw[glyph,line width=1.3pt] (1946,878) -- (1951,883) -- (1956,878) (1946,896) -- (1951,891) -- (1956,896);
\draw[glyph,line width=1.3pt,rounded corners=3pt] (1981,884) -- (1981,879) -- (1995,879) -- (1995,884) (1981,891) -- (1981,896) -- (1995,896) -- (1995,891);
% TradingView logo
\fill[white,opacity=.45] (12,934) rectangle (260,974);
\fill[dark] (17,940) -- (38,940) -- (38,963) -- (28,963) -- (28,950) -- (17,950) -- cycle;
\fill[dark] (44,945) circle (4.5);
\fill[dark] (49,940) -- (64,940) -- (52,963) -- (39,963) -- cycle;
\node[font=\fontsize{32}{35}\selectfont\bfseries,inner sep=0,anchor=west,text=dark] at (73,953) {TradingView};
% navigation buttons
\navbtn{921}\navbtn{975}\navbtn{1050}\navbtn{1103}\navbtn{1178}
\draw[h50535E,line width=2pt] (912,955) -- (930,955) (966,955) -- (984,955) (975,946) -- (975,964);
\draw[h50535E,line width=2pt] (1054,944) -- (1045,955) -- (1054,966) (1099,944) -- (1108,955) -- (1099,966);
\draw[h50535E,line width=2pt] (1172,948) arc (229:529:9.2);
\draw[h50535E,line width=2pt] (1172,941) -- (1172,948) -- (1179,948);
% gear
\draw[glyph,line width=1.2pt] (2055,1006) circle (7.5);
\foreach \a in {0,45,...,315}{\draw[glyph,line width=1.2pt] (2055,1006) ++(\a:7.5) -- ++(\a:2.5);}
% bottom bar
\foreach \t/\bx in {1J/35,5J/76,1M/122,3M/169,6M/215,YTD/267,1Y/319,5Y/362,Tout/415}{\node[text=hD1D4DC,font=\ui,inner sep=0] at (\bx,1055) {\t};}
\draw[h3A3E4A,line width=1pt] (460,1039) -- (460,1073) (1853,1039) -- (1853,1073);
\draw[hC8CBD3,line width=1.2pt,rounded corners=1pt] (487,1046) -- (487,1043) -- (509,1043) -- (509,1066) -- (498,1066);
\draw[hC8CBD3,line width=1.2pt] (487,1050) -- (509,1050) (492,1040) -- (492,1045) (504,1040) -- (504,1045) (486,1059) -- (497,1059) (493,1055) -- (497,1059) -- (493,1063);
\node[text=hD1D4DC,font=\ui,inner sep=0] at (1747,1055) {14:50:30 (UTC+2)};
\node[text=hD1D4DC,font=\fontsize{19}{22}\selectfont,inner sep=0] at (1883,1055) {\%};
\node[text=hD1D4DC,font=\ui,inner sep=0] at (1929,1055) {log};
\node[text=hD1D4DC,font=\ui,inner sep=0] at (2024,1055) {automatique};
\end{scope}
\pgfsetlayers{bg,axis background,axis grid,axis ticks,axis lines,axis tick labels,pre main,main,axis descriptions,axis foreground}
\begin{pgfonlayer}{bg}
% full height gradients
\shade[top color=topbg,bottom color=white] (0pt,0pt) rectangle (2098pt,-861.5pt);
\shade[top color=topbg,bottom color=white] (0pt,-861.5pt) rectangle (2098pt,-984pt);
\fill[white] (0pt,-984pt) rectangle (2098pt,-1026pt);
\fill[dark] (0pt,-1026pt) rectangle (2098pt,-1081pt);
% zones
\fill[hD9CFE3] (0pt,-302pt) rectangle (2010pt,-326.3pt);
\fill[hE2C9C1] (0pt,-326.3pt) rectangle (2010pt,-356.5pt);
\shade[top color={rgb,255:red,225;green,224;blue,216},bottom color={rgb,255:red,240;green,233;blue,220}] (0pt,-356.5pt) rectangle (2010pt,-614.3pt);
\fill[hDEDCC4] (0pt,-614.3pt) rectangle (2010pt,-645.3pt);
\fill[hD8EBE3] (0pt,-645.3pt) rectangle (2010pt,-672pt);
\fill[hE1EFE4] (0pt,-756.3pt) rectangle (2010pt,-806.3pt);
\end{pgfonlayer}
\pgfresetboundingbox
\path[use as bounding box] (0pt,0pt) rectangle (2098pt,-1081pt);
\end{tikzpicture}
\end{document}
